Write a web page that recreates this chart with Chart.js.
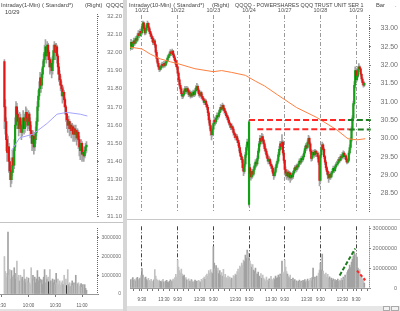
<!DOCTYPE html>
<html>
<head>
<meta charset="utf-8">
<script src="https://cdn.jsdelivr.net/npm/chart.js@4.4.0/dist/chart.umd.min.js"></script>
<style>
  html, body { margin:0; padding:0; background:#fff; }
  body { width:400px; height:311px; position:relative; overflow:hidden; font-family:'Liberation Sans', Arial, sans-serif; }
  canvas { position:absolute; }
  .ttl { position:absolute; font-size:5.8px; line-height:7px; color:#444; white-space:pre; }
  .bar { position:absolute; }
</style>
</head>
<body>

<div id="leftPane" style="position:absolute;left:0;top:0;width:123px;height:311px;overflow:hidden;">
  <canvas id="lp" width="123" height="222" style="left:0;top:0;"></canvas>
  <canvas id="lv" width="123" height="86" style="left:0;top:223px;"></canvas>
  <div class="ttl" style="left:1px;top:2px;">Intraday(1-Min) ( Standard*)</div>
  <div class="ttl" style="left:85px;top:2px;">(Right)</div>
  <div class="ttl" style="left:106px;top:2px;">QQQQ</div>
  <div class="ttl" style="left:5px;top:9px;">10/29</div>
</div>

<div class="bar" style="left:123px;top:0;width:4px;height:311px;background:#d6d6d6;"></div>
<div class="bar" style="left:0;top:222px;width:123px;height:1px;background:#c4c4c4;"></div>
<div class="bar" style="left:127px;top:219px;width:273px;height:1px;background:#c8c8c8;"></div>
<div class="bar" style="left:0;top:309px;width:123px;height:2px;background:#e2e2e2;"></div>
<div class="bar" style="left:127px;top:306px;width:273px;height:5px;background:#e6e6e6;"></div>
<div class="bar" style="left:383px;top:306px;width:7px;height:5px;border:1px solid #aaa;box-sizing:border-box;background:#f2f2f2;"></div>
<div class="bar" style="left:391px;top:306px;width:8px;height:5px;border:1px solid #aaa;box-sizing:border-box;background:#f2f2f2;"></div>

<canvas id="rp" width="272" height="219" style="left:128px;top:0;"></canvas>
<canvas id="rv" width="272" height="86" style="left:128px;top:221px;"></canvas>
<div class="ttl" style="left:129px;top:2px;">Intraday(10-Min) ( Standard*)</div>
<div class="ttl" style="left:212px;top:2px;">(Right)</div>
<div class="ttl" style="left:235px;top:2px;font-size:5.4px;">QQQQ - POWERSHARES QQQ TRUST UNIT SER 1</div>
<div class="ttl" style="left:376px;top:2px;">Bar</div>
<div class="ttl" style="left:395px;top:2px;">.</div>

<script>
// ============================================================
//  DATA: right panel, 10-min bars (10/20 pm .. 10/29 am)
// ============================================================
var dayStarts = [0, 39, 78, 117, 156, 195, 234];
var dayLabels = ['10/21', '10/22', '10/23', '10/24', '10/27', '10/28', '10/29'];
var rFirst = -13;

var rClose = [
  32.55, 32.62, 32.48, 32.58, 32.66, 32.60, 32.72, 32.68, 32.80, 32.86, 32.80, 32.92, 32.88,
  33.05, 33.15, 33.00, 32.88, 32.95, 33.10, 33.14, 33.02, 32.92, 32.85, 32.78, 32.72, 32.62, 32.66, 32.55, 32.35, 32.18, 32.05, 31.95, 31.88, 31.92, 31.98, 32.02, 31.98, 32.05, 32.00, 32.08, 32.12, 32.20, 32.25, 32.30, 32.36, 32.32, 32.38, 32.28, 32.20, 32.12, 32.02, 31.95,
  31.78, 31.60, 31.45, 31.35, 31.22, 31.15, 31.20, 31.30, 31.35, 31.28, 31.36, 31.30, 31.20, 31.25, 31.15, 31.22, 31.18, 31.26, 31.20, 31.30, 31.38, 31.42, 31.32, 31.22, 31.18, 31.25, 31.15, 31.10, 31.05, 30.98, 31.02, 30.92, 30.85, 30.70, 30.50, 30.35, 30.20, 30.10, 30.25,
  30.40, 30.50, 30.45, 30.55, 30.62, 30.60, 30.70, 30.78, 30.85, 30.80, 30.90, 30.82, 30.75, 30.70, 30.62, 30.58, 30.50, 30.42, 30.38, 30.30, 30.32, 30.25, 30.15, 30.10, 30.02, 30.05, 29.95, 29.88, 29.75, 29.60, 29.50, 29.42, 29.20, 29.10, 29.30, 29.55, 29.75, 29.90, 29.82,
  30.45, 29.05, 28.95, 29.10, 29.02, 29.15, 29.25, 29.35, 29.30, 29.45, 29.65, 29.85, 30.00, 29.92, 30.05, 29.95, 29.85, 29.72, 29.65, 29.55, 29.45, 29.38, 29.42, 29.30, 29.25, 29.18, 29.05, 28.98, 29.08, 29.20, 29.30, 29.38, 29.55, 29.70, 29.85, 29.78, 29.90, 29.60, 29.40,
  29.15, 29.05, 28.98, 29.08, 28.95, 29.05, 28.92, 29.00, 28.95, 29.05, 29.12, 29.20, 29.15, 29.25, 29.22, 29.30, 29.38, 29.35, 29.45, 29.42, 29.50, 29.60, 29.72, 29.80, 29.75, 29.90, 30.00, 29.85, 29.65, 29.45, 29.55, 29.62, 29.55, 29.65, 29.58, 29.60, 29.50, 29.35, 28.85,
  29.55, 29.75, 29.82, 29.70, 29.50, 29.35, 29.20, 29.10, 29.00, 28.92, 29.02, 28.95, 29.05, 29.10, 29.18, 29.12, 29.22, 29.28, 29.30, 29.35, 29.42, 29.40, 29.50, 29.48, 29.55, 29.60, 29.50, 29.52, 29.42, 29.35, 29.40, 29.60, 29.75, 29.95, 30.25, 30.55, 30.95, 31.45, 31.85,
  31.60, 31.70, 31.88, 31.95, 31.90, 31.75, 31.62, 31.52, 31.45, 31.50
];
var rHigh = [
  32.62, 32.70, 32.66, 32.64, 32.74, 32.70, 32.78, 32.76, 32.86, 32.94, 32.90, 32.98, 32.96,
  33.12, 33.20, 33.18, 33.05, 33.02, 33.14, 33.20, 33.16, 33.06, 32.98, 32.90, 32.82, 32.78, 32.72, 32.70, 32.58, 32.40, 32.22, 32.10, 31.98, 31.98, 32.04, 32.08, 32.06, 32.10, 32.08, 32.12, 32.18, 32.26, 32.30, 32.36, 32.42, 32.40, 32.44, 32.40, 32.32, 32.24, 32.16, 32.06,
  31.98, 31.82, 31.66, 31.50, 31.40, 31.28, 31.28, 31.36, 31.42, 31.40, 31.42, 31.40, 31.34, 31.32, 31.30, 31.28, 31.28, 31.32, 31.30, 31.36, 31.44, 31.50, 31.46, 31.36, 31.28, 31.30, 31.28, 31.20, 31.14, 31.08, 31.08, 31.06, 30.96, 30.90, 30.74, 30.56, 30.40, 30.28, 30.32,
  30.48, 30.58, 30.56, 30.62, 30.70, 30.68, 30.76, 30.84, 30.92, 30.90, 30.96, 30.92, 30.86, 30.80, 30.74, 30.66, 30.62, 30.54, 30.46, 30.42, 30.40, 30.36, 30.30, 30.20, 30.14, 30.12, 30.10, 30.00, 29.94, 29.80, 29.66, 29.56, 29.48, 29.26, 29.38, 29.62, 29.82, 29.98, 29.96,
  30.50, 29.30, 29.10, 29.16, 29.14, 29.22, 29.32, 29.42, 29.40, 29.52, 29.72, 29.92, 30.08, 30.06, 30.14, 30.10, 29.98, 29.90, 29.78, 29.70, 29.60, 29.50, 29.50, 29.46, 29.36, 29.30, 29.22, 29.10, 29.14, 29.26, 29.36, 29.44, 29.62, 29.78, 29.92, 29.92, 30.10, 29.94, 29.66,
  29.42, 29.22, 29.10, 29.14, 29.12, 29.10, 29.08, 29.06, 29.04, 29.10, 29.18, 29.26, 29.24, 29.30, 29.30, 29.36, 29.44, 29.44, 29.50, 29.52, 29.56, 29.66, 29.78, 29.86, 29.86, 29.96, 30.08, 30.04, 29.90, 29.70, 29.62, 29.68, 29.66, 29.70, 29.68, 29.66, 29.64, 29.54, 29.38,
  29.62, 29.82, 29.90, 29.86, 29.74, 29.54, 29.40, 29.24, 29.14, 29.06, 29.08, 29.06, 29.10, 29.16, 29.24, 29.22, 29.28, 29.34, 29.38, 29.42, 29.48, 29.48, 29.56, 29.56, 29.62, 29.66, 29.64, 29.58, 29.56, 29.46, 29.46, 29.66, 29.82, 30.02, 30.32, 30.62, 31.02, 31.55, 31.95,
  31.92, 31.78, 31.96, 32.04, 31.98, 31.92, 31.78, 31.66, 31.56, 31.54
];
var rLow = [
  32.40, 32.52, 32.42, 32.44, 32.54, 32.54, 32.58, 32.62, 32.64, 32.76, 32.74, 32.78, 32.82,
  32.84, 33.00, 32.94, 32.82, 32.84, 32.92, 33.06, 32.96, 32.86, 32.78, 32.72, 32.64, 32.56, 32.58, 32.48, 32.28, 32.10, 31.98, 31.88, 31.82, 31.84, 31.88, 31.94, 31.92, 31.94, 31.94, 31.98, 32.04, 32.10, 32.16, 32.20, 32.26, 32.26, 32.28, 32.22, 32.14, 32.06, 31.96, 31.88,
  31.72, 31.54, 31.40, 31.28, 31.16, 31.08, 31.10, 31.16, 31.26, 31.22, 31.24, 31.24, 31.14, 31.16, 31.10, 31.12, 31.12, 31.14, 31.14, 31.16, 31.26, 31.34, 31.26, 31.16, 31.12, 31.14, 31.08, 31.04, 30.98, 30.92, 30.94, 30.86, 30.78, 30.62, 30.42, 30.26, 30.08, 29.96, 30.06,
  30.18, 30.36, 30.36, 30.40, 30.50, 30.52, 30.56, 30.64, 30.72, 30.74, 30.76, 30.76, 30.68, 30.64, 30.56, 30.50, 30.44, 30.36, 30.30, 30.24, 30.24, 30.18, 30.08, 30.02, 29.96, 29.96, 29.88, 29.80, 29.66, 29.52, 29.42, 29.34, 29.12, 28.98, 29.04, 29.24, 29.48, 29.68, 29.74,
  28.15, 28.96, 28.86, 28.90, 28.94, 28.98, 29.10, 29.20, 29.22, 29.26, 29.40, 29.60, 29.78, 29.84, 29.86, 29.88, 29.78, 29.66, 29.58, 29.48, 29.38, 29.30, 29.32, 29.24, 29.18, 29.10, 28.98, 28.88, 28.94, 29.02, 29.14, 29.24, 29.34, 29.50, 29.66, 29.70, 29.72, 29.54, 29.32,
  29.00, 28.96, 28.88, 28.92, 28.86, 28.88, 28.80, 28.86, 28.88, 28.90, 29.00, 29.08, 29.08, 29.10, 29.14, 29.18, 29.26, 29.28, 29.30, 29.36, 29.38, 29.46, 29.56, 29.66, 29.68, 29.72, 29.84, 29.78, 29.58, 29.38, 29.40, 29.50, 29.48, 29.50, 29.50, 29.52, 29.44, 29.28, 28.70,
  28.80, 29.48, 29.70, 29.64, 29.44, 29.28, 29.14, 29.02, 28.90, 28.80, 28.88, 28.88, 28.92, 29.00, 29.06, 29.06, 29.10, 29.18, 29.24, 29.26, 29.32, 29.34, 29.38, 29.42, 29.44, 29.50, 29.44, 29.44, 29.36, 29.30, 29.32, 29.36, 29.56, 29.70, 29.90, 30.20, 30.50, 30.90, 31.38,
  31.52, 31.56, 31.66, 31.82, 31.82, 31.70, 31.56, 31.46, 31.40, 31.42
];
// volume in millions of shares
var rVol = [
  4.2, 3.8, 4.5, 5.2, 3.9, 4.4, 3.6, 4.8, 5.3, 4.1, 4.6, 5.0, 6.2,
  9.7, 6.5, 5.2, 4.8, 5.5, 4.2, 3.6, 4.9, 3.8, 3.2, 4.4, 3.5, 3.0, 4.1, 9.2, 6.0, 4.5, 3.8, 3.2, 4.0, 3.4, 2.9, 3.6, 4.3, 3.1, 2.8, 3.5, 3.9, 3.0, 2.7, 3.4, 4.1, 3.2, 3.6, 4.5, 3.9, 5.2, 6.8, 5.5,
  14.0, 10.5, 8.8, 7.5, 9.5, 7.0, 5.8, 6.5, 4.6, 5.2, 4.1, 3.8, 4.6, 3.5, 3.2, 4.2, 3.6, 2.9, 3.3, 4.0, 3.1, 3.5, 2.8, 3.9, 3.4, 3.0, 4.3, 3.7, 4.8, 5.5, 4.4, 6.2, 7.0, 5.8, 8.8, 7.5, 9.2, 8.0, 7.2,
  20.8, 12.5, 9.8, 11.2, 8.5, 10.0, 7.2, 8.8, 6.5, 7.8, 6.0, 9.4, 5.5, 6.8, 5.2, 4.6, 6.0, 4.8, 5.5, 4.2, 5.0, 4.5, 6.2, 5.8, 7.0, 6.5, 8.2, 9.5, 7.8, 11.0, 10.2, 12.5, 11.5, 14.0, 13.2, 16.5, 15.0, 19.0, 17.5,
  15.0, 13.5, 12.0, 10.5, 11.8, 9.0, 8.2, 10.0, 7.5, 6.8, 8.0, 6.0, 5.5, 7.2, 4.8, 6.5, 5.0, 4.2, 3.5, 5.5, 4.0, 3.2, 4.6, 3.8, 5.8, 4.4, 3.6, 5.0, 4.2, 6.0, 4.8, 5.2, 6.5, 5.4, 7.0, 6.2, 13.5, 8.0, 7.2,
  14.0, 10.5, 8.2, 7.0, 6.0, 5.2, 6.5, 4.4, 3.8, 5.0, 3.5, 4.2, 3.0, 3.6, 2.8, 3.4, 4.0, 3.1, 3.5, 2.9, 3.8, 3.2, 4.2, 3.0, 3.6, 4.5, 3.3, 3.9, 4.8, 3.6, 5.2, 10.0, 4.4, 5.5, 4.0, 6.0, 5.0, 7.5, 9.0,
  12.5, 9.0, 17.0, 8.5, 7.0, 6.2, 7.5, 5.5, 6.8, 4.8, 5.6, 4.2, 5.0, 3.8, 4.6, 3.5, 4.2, 3.2, 3.8, 4.5, 3.4, 4.0, 3.6, 4.8, 3.9, 5.5, 4.6, 6.5, 5.2, 7.8, 8.8, 9.5, 11.5, 10.2, 13.0, 14.5, 16.0, 18.0, 16.5,
  17.0, 15.5, 10.0, 8.5, 9.2, 6.5, 5.8, 4.5, 4.0, 2.5
];
// bars whose open is not the previous close
var rGapIdx = [-13, 117, 118];
var rGapOpen = [32.45, 28.20, 29.20];

// moving average (orange)
var rMaIdx = [-13, 0, 9, 20, 31, 39, 58, 78, 87, 98, 113, 124, 134, 148, 169, 191, 213, 225, 235, 244];
var rMaVal = [32.49, 32.44, 32.30, 32.17, 32.09, 32.04, 31.90, 31.82, 31.85, 31.80, 31.72, 31.56, 31.43, 31.19, 30.84, 30.57, 30.23, 29.99, 29.96, 29.99];

// drawn levels
var redLevelFrom = [117, 126];
var redLevelTo = [222, 226];
var redLevelPrice = [30.50, 30.25];
var greenLevelFrom = [225, 226];
var greenLevelTo = [250, 250];
var greenLevelPrice = [30.50, 30.24];
var volUpX = [216, 233];
var volUpY = [6.3, 19.8];
var volDnX = [235, 244];
var volDnY = [8.7, 3.9];

var rPriceTicks = [28.5, 29, 29.5, 30, 30.5, 31, 31.5, 32, 32.5, 33];
var rVolTicks = [0, 10, 20, 30];
var hourOffsets = [0, 6, 12, 18, 24, 30, 36];
var hourText = ['9:30', '', '', '', '13:30', '', ''];

// ============================================================
//  DATA: left panel, 1-min bars 10/29
// ============================================================
var lFirst = 3;
var lOpen0 = 31.95;
var lClose = [
  31.70, 31.62, 31.52, 31.45, 31.48, 31.40, 31.35, 31.30, 31.34, 31.42,
  31.38, 31.48, 31.60, 31.70, 31.66, 31.62, 31.58, 31.64, 31.60, 31.56,
  31.60, 31.64, 31.58, 31.62, 31.67, 31.64, 31.60, 31.66, 31.62, 31.57,
  31.55, 31.50, 31.54, 31.48, 31.52, 31.56, 31.62, 31.70, 31.76, 31.80,
  31.86, 31.82, 31.88, 31.92, 31.96, 32.00, 32.03, 31.98, 32.04, 32.00,
  31.96, 31.92, 31.94, 31.90, 31.96, 32.01, 32.04, 32.00, 32.03, 31.98,
  31.92, 31.88, 31.85, 31.82, 31.80, 31.76, 31.78, 31.74, 31.70, 31.66,
  31.63, 31.60, 31.62, 31.58, 31.60, 31.57, 31.59, 31.55, 31.58, 31.55,
  31.57, 31.53, 31.56, 31.52, 31.48, 31.46, 31.50, 31.44, 31.45, 31.43,
  31.46, 31.48, 31.49
];
var lHigh = [
  31.96, 31.74, 31.64, 31.55, 31.54, 31.50, 31.42, 31.37, 31.38, 31.46,
  31.46, 31.52, 31.64, 31.73, 31.72, 31.68, 31.64, 31.67, 31.66, 31.62,
  31.63, 31.68, 31.66, 31.65, 31.70, 31.69, 31.66, 31.68, 31.67, 31.64,
  31.60, 31.57, 31.57, 31.56, 31.55, 31.59, 31.64, 31.73, 31.79, 31.84,
  31.89, 31.88, 31.91, 31.95, 31.99, 32.04, 32.07, 32.04, 32.06, 32.05,
  32.01, 31.97, 31.97, 31.95, 31.98, 32.04, 32.06, 32.05, 32.05, 32.04,
  31.99, 31.94, 31.90, 31.87, 31.84, 31.82, 31.81, 31.79, 31.75, 31.71,
  31.67, 31.64, 31.65, 31.63, 31.62, 31.61, 31.61, 31.60, 31.60, 31.59,
  31.60, 31.58, 31.58, 31.57, 31.54, 31.50, 31.52, 31.51, 31.48, 31.47,
  31.48, 31.50, 31.51
];
var lLow = [
  31.58, 31.55, 31.46, 31.40, 31.42, 31.34, 31.30, 31.26, 31.28, 31.32,
  31.34, 31.36, 31.46, 31.58, 31.62, 31.58, 31.54, 31.56, 31.56, 31.52,
  31.54, 31.58, 31.55, 31.56, 31.60, 31.59, 31.57, 31.58, 31.58, 31.53,
  31.50, 31.46, 31.47, 31.44, 31.46, 31.50, 31.54, 31.60, 31.68, 31.74,
  31.78, 31.78, 31.80, 31.86, 31.92, 31.94, 31.97, 31.94, 31.96, 31.96,
  31.92, 31.88, 31.89, 31.86, 31.88, 31.94, 31.98, 31.96, 31.98, 31.94,
  31.88, 31.84, 31.82, 31.79, 31.76, 31.72, 31.73, 31.70, 31.66, 31.62,
  31.58, 31.56, 31.58, 31.54, 31.55, 31.53, 31.55, 31.51, 31.53, 31.51,
  31.52, 31.49, 31.51, 31.47, 31.43, 31.41, 31.44, 31.40, 31.41, 31.40,
  31.42, 31.44, 31.45
];
var lVol = [
  2.0, 1.2, 0.9, 1.1, 3.3, 1.0, 1.3, 0.8, 1.25, 0.9,
  1.0, 1.4, 0.8, 1.1, 1.75, 0.9, 1.0, 0.7, 1.0, 0.8,
  0.9, 0.7, 1.3, 0.8, 0.6, 0.9, 0.7, 0.85, 0.6, 0.5,
  1.4, 0.8, 1.0, 0.7, 0.9, 0.6, 0.8, 1.25, 0.7, 0.9,
  0.8, 0.6, 0.75, 0.5, 0.9, 1.3, 0.6, 1.0, 0.8, 0.9,
  0.65, 1.3, 0.7, 0.5, 0.8, 0.6, 0.75, 0.5, 1.1, 0.6,
  0.8, 0.5, 0.7, 0.45, 0.6, 0.7, 0.5, 1.0, 0.6, 0.8,
  0.45, 1.3, 0.5, 0.6, 0.4, 0.55, 0.7, 0.45, 0.6, 0.5,
  1.0, 0.4, 0.55, 0.6, 0.4, 0.5, 0.55, 0.35, 0.5, 0.45,
  0.5, 0.3, 0.2
];
var lDarkVol = [53, 73];
var lMaMin = [11, 20, 35, 51, 62, 73, 88, 96];
var lMaVal = [31.46, 31.53, 31.55, 31.61, 31.66, 31.67, 31.66, 31.65];
var lPriceTicks = [31.1, 31.2, 31.3, 31.4, 31.5, 31.6, 31.7, 31.8, 31.9, 32.0, 32.1, 32.2];
var lVolTicks = [0, 1, 2, 3];
var lTimeTicks = [0, 30, 60, 90];
var lTimeText = ['9:30', '10:00', '10:30', '11:00'];

// ============================================================
//  HELPERS
// ============================================================
var UP = '#14a014', DN = '#e61414', WICK = '#a4a4a4';
var FONT = "'Liberation Sans', Arial, sans-serif";
var R_MIN = -13.1, R_MAX = 248.1;
var L_MIN = -1.96, L_MAX = 106.8;

function buildCandles(first, closes, highs, lows, gapIdx, gapOpen) {
  var out = { wick: [], body: [], col: [], up: [] };
  for (var k = 0; k < closes.length; k++) {
    var i = first + k;
    var g = gapIdx.indexOf(i);
    var o = g >= 0 ? gapOpen[g] : closes[k - 1];
    var c = closes[k];
    out.wick.push({ x: i, y: [lows[k], highs[k]] });
    out.body.push({ x: i, y: [o, c] });
    out.col.push(c >= o ? UP : DN);
    out.up.push(c >= o);
  }
  return out;
}

function seg(x0, x1, y0, y1) { return [{ x: x0, y: y0 }, { x: x1, y: y1 }]; }

function tickList(arr) { return arr.map(function(v) { return { value: v }; }); }

// keep edge labels from shrinking the plot area
function noSidePad(s) { s.paddingLeft = 0; s.paddingRight = 0; }

var rulerPlugin = {
  id: 'ruler',
  afterDraw: function(c) {
    var a = c.chartArea, ctx = c.ctx;
    ctx.save();
    ctx.strokeStyle = '#666';
    ctx.lineWidth = 1;
    ctx.setLineDash([1, 1]);
    ctx.beginPath();
    ctx.moveTo(Math.round(a.right) + 0.5, a.top);
    ctx.lineTo(Math.round(a.right) + 0.5, a.bottom);
    ctx.stroke();
    ctx.restore();
  }
};

function yAxis(min, max, ticks, width, size, fmt) {
  return {
    position: 'right', min: min, max: max,
    afterBuildTicks: function(s) { s.ticks = tickList(ticks); },
    afterFit: function(s) { s.width = width; },
    ticks: { font: { family: FONT, size: size }, color: '#707070', crossAlign: 'far', padding: 2, autoSkip: false, callback: fmt },
    grid: { drawOnChartArea: false, tickLength: 2, color: '#888' },
    border: { display: false }
  };
}

var baseOpts = function(padding) {
  return {
    responsive: false, animation: false, events: [],
    layout: { padding: padding },
    plugins: { legend: { display: false }, tooltip: { enabled: false } }
  };
};

// ============================================================
//  RIGHT PANEL
// ============================================================
var rc = buildCandles(rFirst, rClose, rHigh, rLow, rGapIdx, rGapOpen);
var rMaPts = rMaIdx.map(function(x, k) { return { x: x, y: rMaVal[k] }; });

var rpSets = [
  { data: rc.wick, backgroundColor: WICK, barThickness: 1, grouped: false, order: 5 },
  { data: rc.body, backgroundColor: rc.col, barThickness: 1.5, grouped: false, order: 4 },
  { type: 'line', data: rMaPts, borderColor: '#ff8040', borderWidth: 1, pointRadius: 0, order: 3 }
];
redLevelPrice.forEach(function(p, k) {
  rpSets.push({ type: 'line', data: seg(redLevelFrom[k], redLevelTo[k], p, p), borderColor: '#ff2626', borderWidth: 2, borderDash: [6, 3], pointRadius: 0, order: 1 });
});
greenLevelPrice.forEach(function(p, k) {
  rpSets.push({ type: 'line', data: seg(greenLevelFrom[k], greenLevelTo[k], p, p), borderColor: '#1e7d1e', borderWidth: 2, borderDash: [6, 3], pointRadius: 0, clip: false, order: 1 });
});

var rpOpts = baseOpts({ left: 2, right: 2, top: 0, bottom: 1 });
rpOpts.scales = {
  x: {
    type: 'linear', position: 'top', min: R_MIN, max: R_MAX, offset: false,
    afterBuildTicks: function(s) { s.ticks = tickList(dayStarts); },
    afterFit: function(s) { s.height = 15; noSidePad(s); },
    ticks: { autoSkip: false, maxRotation: 0, padding: 1, font: { family: FONT, size: 5.5 }, color: '#555',
      callback: function(v) { var k = dayStarts.indexOf(v); return k >= 0 ? dayLabels[k] : ''; } },
    grid: { offset: false, color: '#9a9a9a', drawTicks: false },
    border: { display: false, dash: [4, 2, 1, 2] }
  },
  y: yAxis(27.968, 33.367, rPriceTicks, 29, 7, function(v) { return v.toFixed(2); })
};
new Chart(document.getElementById('rp'), { type: 'bar', data: { datasets: rpSets }, options: rpOpts, plugins: [rulerPlugin] });

// volume
var rHourTicks = [];
[-39].concat(dayStarts).forEach(function(s) {
  hourOffsets.forEach(function(o) { var v = s + o; if (v >= R_MIN && v <= R_MAX) rHourTicks.push(v); });
});
function hourOf(v) { return ((v % 39) + 39) % 39; }

var rVolPts = rVol.map(function(v, k) { return { x: rFirst + k, y: v }; });
var rVolCol = rc.up.map(function(u) { return u ? '#a2a2a2' : '#c2c2c2'; });

var rvOpts = baseOpts({ left: 2, right: 3, top: 3, bottom: 0 });
rvOpts.scales = {
  x: {
    type: 'linear', min: R_MIN, max: R_MAX, offset: false,
    afterBuildTicks: function(s) { s.ticks = tickList(rHourTicks); },
    afterFit: function(s) { s.height = 19; noSidePad(s); },
    ticks: { autoSkip: false, maxRotation: 0, padding: 6, font: { family: FONT, size: 4.5 }, color: '#555',
      callback: function(v) { var k = hourOffsets.indexOf(hourOf(v)); return k >= 0 ? hourText[k] : ''; } },
    grid: { offset: false, tickLength: 3, tickColor: '#777',
      color: function(ctx) { return ctx.tick && hourOf(ctx.tick.value) === 0 ? '#444' : 'rgba(0,0,0,0)'; } },
    border: { display: true, color: '#999', dash: [4, 2, 1, 2] }
  },
  y: yAxis(0, 30.97, rVolTicks, 28, 5.5, function(v) { return String(v * 1000000); })
};
new Chart(document.getElementById('rv'), {
  type: 'bar',
  data: { datasets: [
    { data: rVolPts, backgroundColor: rVolCol, barThickness: 1, grouped: false, order: 3 },
    { type: 'line', data: seg(volUpX[0], volUpX[1], volUpY[0], volUpY[1]), borderColor: '#1e7d1e', borderWidth: 2, borderDash: [4, 2], pointRadius: 0, order: 1 },
    { type: 'line', data: seg(volDnX[0], volDnX[1], volDnY[0], volDnY[1]), borderColor: '#ff2626', borderWidth: 2, borderDash: [3, 2], pointRadius: 0, order: 1 }
  ]},
  options: rvOpts, plugins: [rulerPlugin]
});

// ============================================================
//  LEFT PANEL
// ============================================================
var lc = buildCandles(lFirst, lClose, lHigh, lLow, [lFirst], [lOpen0]);
var lMaPts = lMaMin.map(function(x, k) { return { x: x, y: lMaVal[k] }; });

var lpOpts = baseOpts({ left: 0, right: 1, top: 14, bottom: 1 });
lpOpts.scales = {
  x: { type: 'linear', display: false, min: L_MIN, max: L_MAX, offset: false },
  y: yAxis(31.098, 32.211, lPriceTicks, 25, 6, function(v) { return v.toFixed(2); })
};
new Chart(document.getElementById('lp'), {
  type: 'bar',
  data: { datasets: [
    { data: lc.wick, backgroundColor: WICK, barThickness: 1, grouped: false, order: 5 },
    { data: lc.body, backgroundColor: lc.col, barThickness: 1.5, grouped: false, order: 4 },
    { type: 'line', data: lMaPts, borderColor: '#a4a4ff', borderWidth: 1, pointRadius: 0, order: 2 }
  ]},
  options: lpOpts, plugins: [rulerPlugin]
});

var lVolPts = lVol.map(function(v, k) { return { x: lFirst + k, y: v }; });
var lVolCol = lc.up.map(function(u, k) {
  if (lDarkVol.indexOf(lFirst + k) >= 0) return '#222';
  return u ? '#a2a2a2' : '#c2c2c2';
});
var lvOpts = baseOpts({ left: 0, right: 2, top: 3, bottom: 0 });
lvOpts.scales = {
  x: {
    type: 'linear', min: L_MIN, max: L_MAX, offset: false,
    afterBuildTicks: function(s) { s.ticks = tickList(lTimeTicks); },
    afterFit: function(s) { s.height = 15; noSidePad(s); },
    ticks: { autoSkip: false, maxRotation: 0, padding: 6, font: { family: FONT, size: 4.5 }, color: '#555',
      callback: function(v) { var k = lTimeTicks.indexOf(v); return k >= 0 ? lTimeText[k] : ''; } },
    grid: { offset: false, drawOnChartArea: false, tickLength: 3, tickColor: '#777' },
    border: { display: true, color: '#999' }
  },
  y: yAxis(0, 3.52, lVolTicks, 24, 5, function(v) { return String(v * 1000000); })
};
new Chart(document.getElementById('lv'), {
  type: 'bar',
  data: { datasets: [ { data: lVolPts, backgroundColor: lVolCol, barThickness: 1, grouped: false } ] },
  options: lvOpts, plugins: [rulerPlugin]
});
</script>
</body>
</html>
